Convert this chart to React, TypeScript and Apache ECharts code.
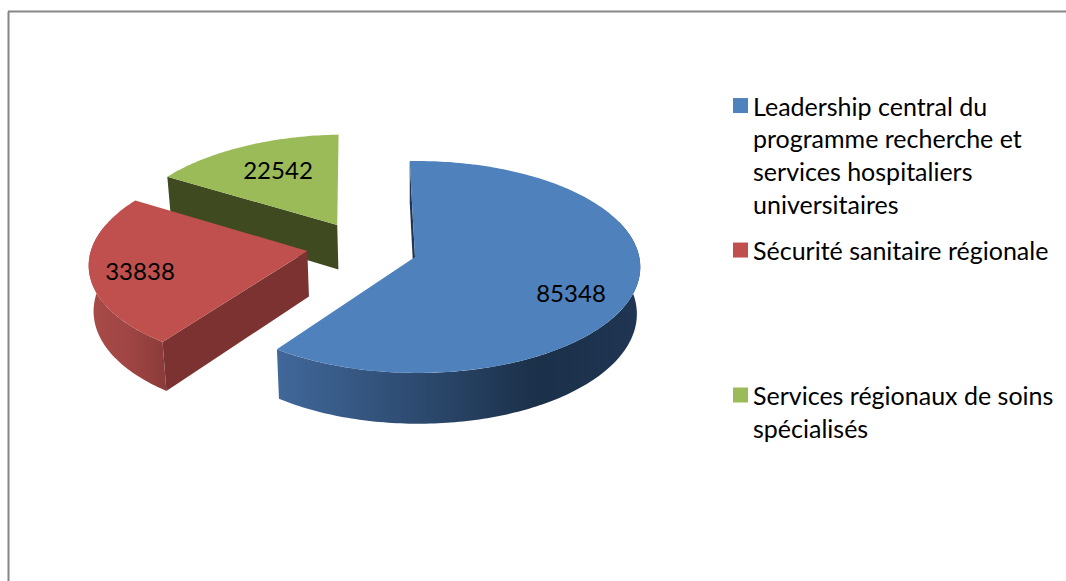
import React, { useEffect, useRef } from "react";
import * as echarts from "echarts";

const categories = [
  "Leadership central du\nprogramme recherche et\nservices hospitaliers\nuniversitaires",
  "Sécurité sanitaire régionale",
  "Services régionaux de soins\nspécialisés",
];
const values = [85348, 33838, 22542];

const topColors = ["#4f81bd", "#c0504d", "#9bbb59"];
const cutColors = ["#1f3552", "#7c3230", "#404a20"];
const wallStops = [
  [[0, "#41689a"], [0.35, "#2f4d74"], [0.72, "#1b3049"], [1, "#1f3552"]],
  [[0, "#a84b48"], [0.5, "#a04644"], [1, "#8a3b39"]],
  [[0, "#5f7636"], [1, "#5f7636"]],
];

// projection of the tilted pie
const CX = 415, CY = 257, RX = 222, RY = 105, K = 0.0943, KU = 0.01, DEPTH = 46, BOTTOM_X = 0.985;
const ROTATION = -1.5;
const explode = [[0, 0], [-0.49, 0.057], [-0.362, 0.315]];
const labelAt = [[571, 292], [140, 270], [278, 169]];
const wallRange = [[70, null], [null, 285], null];

const total = values.reduce((a, b) => a + b, 0);
const rad = (d: number) => (d * Math.PI) / 180;

function project(u: number, v: number, bottom: boolean) {
  const w = 1 + K * v - KU * u;
  const x = (RX * u) / w;
  return [CX + (bottom ? BOTTOM_X * x : x), CY - (RY * v) / w + (bottom ? DEPTH / w : 0)];
}

function sliceItem(i: number, value: number) {
  const before = values.slice(0, i).reduce((a, b) => a + b, 0);
  const start = ROTATION + (before / total) * 360;
  const end = start + (value / total) * 360;
  const [ou, ov] = explode[i];
  const rim = (t: number, bottom: boolean) =>
    project(ou + Math.sin(rad(t)), ov + Math.cos(rad(t)), bottom);
  const apex = (bottom: boolean) => project(ou, ov, bottom);
  const arc = (a: number, b: number, bottom: boolean) => {
    const pts: number[][] = [];
    const n = Math.max(2, Math.ceil(Math.abs(b - a)));
    for (let k = 0; k <= n; k++) pts.push(rim(a + ((b - a) * k) / n, bottom));
    return pts;
  };

  const children: any[] = [];
  const poly = (points: number[][], fill: any, z2: number) =>
    children.push({ type: "polygon", z2, shape: { points }, style: { fill } });

  // straight cut face that looks to the viewer
  poly([apex(false), rim(start, false), rim(start, true), apex(true)], cutColors[i], 1);

  // curved outer wall
  const range = wallRange[i];
  if (range) {
    const a = range[0] ?? start;
    const b = range[1] ?? end;
    poly(
      [...arc(a, b, false), ...arc(a, b, true).reverse()],
      new echarts.graphic.LinearGradient(
        0, 0, 1, 0,
        wallStops[i].map(([offset, color]) => ({ offset: offset as number, color: color as string }))
      ),
      2
    );
  }

  // top face
  poly([apex(false), ...arc(start, end, false)], topColors[i], 3);

  children.push({
    type: "text",
    z2: 5,
    x: labelAt[i][0],
    y: labelAt[i][1],
    style: {
      text: String(value),
      fill: "#000",
      font: '24px "Lato", sans-serif',
      textAlign: "center",
      textVerticalAlign: "middle",
    },
  });
  return { type: "group", children };
}

const legendFont = { fontFamily: "Lato", fontSize: 25, color: "#000", lineHeight: 32.67 };
// blank lead lines keep each swatch level with the first line of its text
const legendLayout = [
  { top: -13.8, lead: "\n\n\n" },
  { top: 228.7, lead: "" },
  { top: 341, lead: "\n" },
];

export default function App() {
  const ref = useRef<HTMLDivElement>(null);
  useEffect(() => {
    document.body.style.margin = "0";
    const chart = echarts.init(ref.current!, null, { renderer: "svg" });
    chart.setOption({
      animation: false,
      backgroundColor: "#fff",
      legend: categories.map((name, i) => ({
        data: [name],
        left: 728,
        top: legendLayout[i].top,
        orient: "vertical",
        icon: "rect",
        itemWidth: 15,
        itemHeight: 15,
        selectedMode: false,
        textStyle: legendFont,
        formatter: (n: string) => legendLayout[i].lead + n,
      })),
      graphic: [
        { type: "line", shape: { x1: 8.5, y1: 11.5, x2: 8.5, y2: 581 }, style: { stroke: "#868686", lineWidth: 2 } },
        { type: "line", shape: { x1: 8, y1: 11.5, x2: 1066, y2: 11.5 }, style: { stroke: "#868686", lineWidth: 2 } },
      ],
      series: categories.map((name, i) => ({
        type: "custom",
        name,
        coordinateSystem: "none",
        z: 3 - i,
        silent: true,
        itemStyle: { color: topColors[i] },
        data: [[values[i]]],
        renderItem: (_p: any, api: any) => sliceItem(i, api.value(0)),
      })),
    });
    return () => chart.dispose();
  }, []);
  return <div ref={ref} style={{ width: 1066, height: 581 }} />;
}
